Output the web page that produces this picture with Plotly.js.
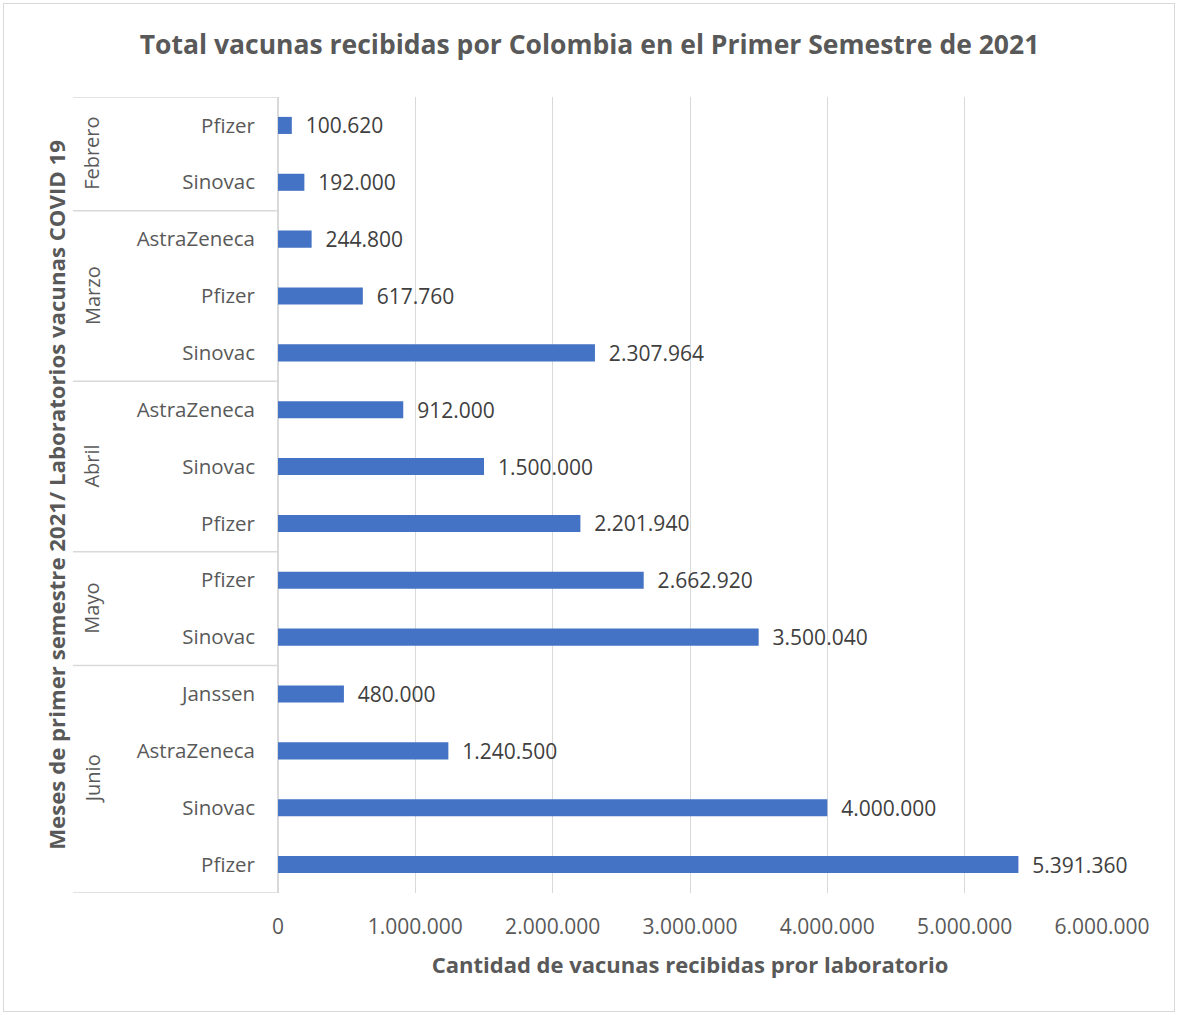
<!DOCTYPE html>
<html>
<head>
<meta charset="utf-8">
<script src="https://cdn.plot.ly/plotly-3.0.1.min.js"></script>
<style>
  html, body { margin: 0; padding: 0; background: #ffffff; }
  #wrap { position: relative; width: 1179px; height: 1015px; }
  #chart { position: absolute; left: 0; top: 0; width: 1179px; height: 1015px; }
  #frame { position: absolute; left: 3px; top: 3px; width: 1170px; height: 1007px; border: 1px solid #d9d9d9; pointer-events: none; }
</style>
</head>
<body>
<div id="wrap">
  <div id="chart"></div>
  <div id="frame"></div>
</div>
<script>
// ---- Data (top to bottom as in the chart) ----
const months = ["Febrero", "Marzo", "Abril", "Mayo", "Junio"];
const febLabs = ["Pfizer", "Sinovac"];
const febValues = [100620, 192000];
const marLabs = ["AstraZeneca", "Pfizer", "Sinovac"];
const marValues = [244800, 617760, 2307964];
const abrLabs = ["AstraZeneca", "Sinovac", "Pfizer"];
const abrValues = [912000, 1500000, 2201940];
const mayLabs = ["Pfizer", "Sinovac"];
const mayValues = [2662920, 3500040];
const junLabs = ["Janssen", "AstraZeneca", "Sinovac", "Pfizer"];
const junValues = [480000, 1240500, 4000000, 5391360];
const xTickValues = [0, 1000000, 2000000, 3000000, 4000000, 5000000, 6000000];

const groups = [
  { month: months[0], labs: febLabs, values: febValues },
  { month: months[1], labs: marLabs, values: marValues },
  { month: months[2], labs: abrLabs, values: abrValues },
  { month: months[3], labs: mayLabs, values: mayValues },
  { month: months[4], labs: junLabs, values: junValues }
];

const labels = [], values = [], pos = [];
const monthAnn = [], dividers = [];
let idx = 0;
const textColor = "#595959";
const font = "'Open Sans', 'Noto Sans', sans-serif";

dividers.push(-0.5);
groups.forEach(g => {
  const start = idx;
  g.labs.forEach((l, i) => {
    labels.push(l);
    values.push(g.values[i]);
    pos.push(idx);
    idx++;
  });
  monthAnn.push({ month: g.month, center: (start + idx - 1) / 2 });
  dividers.push(idx - 0.5);
});

const trace = {
  type: "bar",
  orientation: "h",
  x: values,
  y: pos,
  width: 0.3,
  marker: { color: "#4472C4" },
  texttemplate: "  %{x:,}",
  textposition: "outside",
  constraintext: "none",
  cliponaxis: false,
  textfont: { family: font, size: 21, color: "#404040" },
  hoverinfo: "x"
};

// axis-area geometry (paper units relative to plot area)
const plotLeft = 278, plotWidth = 1102 - 278;
const toPaperX = px => (px - plotLeft) / plotWidth;

const annotations = monthAnn.map(m => ({
  xref: "paper", yref: "y",
  x: toPaperX(92), y: m.center,
  text: m.month, showarrow: false, textangle: -90,
  font: { family: font, size: 20, color: textColor },
  xanchor: "center", yanchor: "middle"
}));

const shapes = dividers.map(d => ({
  type: "line", xref: "paper", yref: "y",
  x0: toPaperX(73), x1: 0, y0: d, y1: d,
  line: { color: "#d9d9d9", width: 1.5 }
}));

const layout = {
  width: 1179, height: 1015,
  margin: { l: 278, r: 77, t: 97, b: 122 },
  paper_bgcolor: "#ffffff",
  plot_bgcolor: "#ffffff",
  separators: ",.",
  showlegend: false,
  bargap: 0.7,
  title: {
    text: "<b>Total vacunas recibidas por Colombia en el Primer Semestre de 2021</b>",
    font: { family: font, size: 26.5, color: textColor },
    x: 0.5, xref: "container", xanchor: "center",
    y: 1 - 45 / 1015, yref: "container", yanchor: "middle"
  },
  xaxis: {
    range: [0, 6000000],
    tickvals: xTickValues,
    tickformat: ",d",
    showgrid: true, gridcolor: "#d9d9d9", gridwidth: 1,
    zeroline: true, zerolinecolor: "#d9d9d9", zerolinewidth: 1.5,
    showline: false, ticks: "",
    ticklabelstandoff: 19,
    tickfont: { family: font, size: 21, color: textColor },
    title: {
      text: "<b>Cantidad de vacunas recibidas pror laboratorio</b>",
      font: { family: font, size: 22, color: textColor },
      standoff: 18
    },
    fixedrange: true
  },
  yaxis: {
    range: [13.5, -0.5],
    tickvals: pos,
    ticktext: labels,
    showgrid: false, zeroline: false, showline: false, ticks: "",
    ticklabelstandoff: 22,
    tickfont: { family: font, size: 20.5, color: textColor },
    title: {
      text: "<b>Meses de primer semestre 2021/ Laboratorios vacunas COVID 19</b>",
      font: { family: font, size: 22.2, color: textColor },
      standoff: 64
    },
    fixedrange: true
  },
  annotations: annotations,
  shapes: shapes
};

Plotly.newPlot("chart", [trace], layout, { displayModeBar: false, staticPlot: true });
</script>
</body>
</html>
